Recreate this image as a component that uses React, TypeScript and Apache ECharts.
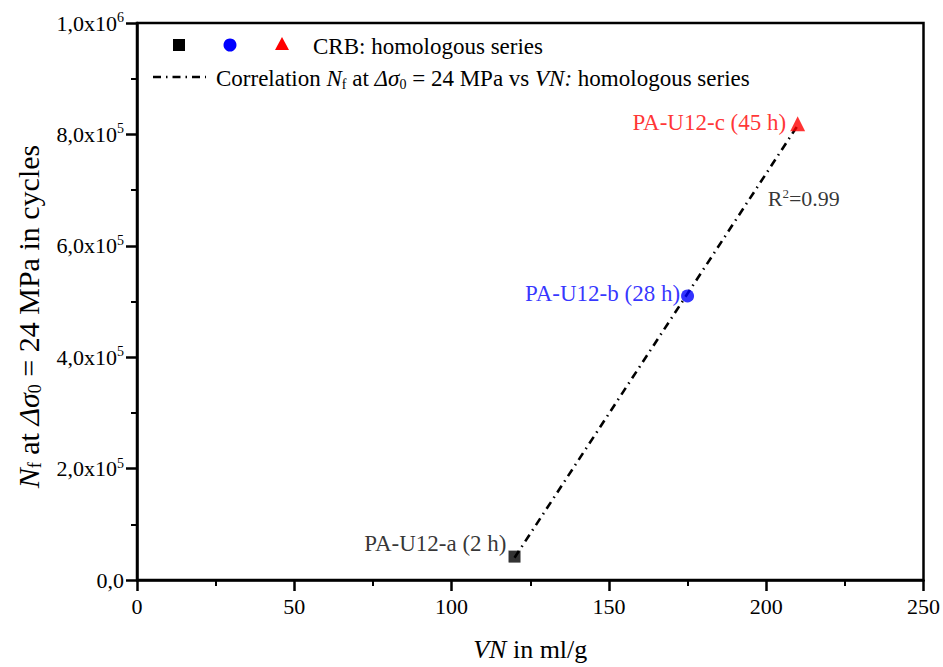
import React, { useEffect, useRef } from "react";
import * as echarts from "echarts";

const sampleNames = ["PA-U12-a (2 h)", "PA-U12-b (28 h)", "PA-U12-c (45 h)"];
const vnValues = [120, 175, 210];
const nfValues = [42000, 510000, 819000];
const sampleColors = ["#000000", "#0000ff", "#ff0000"];
const sampleSymbols = ["rect", "circle", "triangle"];
const sampleSizes = [12, 13, 15];
const labelOffsets = [[0, -13], [0, -2], [0, -1]];
const labelDistances = [2, 1, 4];

const fitX = [120, 210];
const fitY = [40000, 816000];
const r2Pos = [200.5, 685000];

const xTicks = { min: 0, max: 250, interval: 50 };
const yTicks = { min: 0, max: 1000000, interval: 200000 };

const FONT = "'Liberation Serif', 'Times New Roman', serif";

function fmtY(v: number): string {
  if (v === 0) return "{b|0,0}";
  const e = Math.floor(Math.log10(v) + 1e-9);
  const m = (v / Math.pow(10, e)).toFixed(1).replace(".", ",");
  return `{b|${m}x10}{sup|${e}}`;
}

export default function App() {
  const ref = useRef<HTMLDivElement>(null);
  useEffect(() => {
    if (!ref.current) return;
    const chart = echarts.init(ref.current, undefined, { renderer: "svg" });
    const scatterSeries = sampleNames.map((n, i) => ({
      type: "scatter",
      name: n,
      data: [[vnValues[i], nfValues[i]]],
      symbol: sampleSymbols[i],
      symbolSize: sampleSizes[i],
      itemStyle: { color: sampleColors[i] },
      z: 5,
      label: {
        show: true,
        position: "left",
        offset: labelOffsets[i],
        distance: labelDistances[i],
        formatter: n,
        color: sampleColors[i],
        fontFamily: FONT,
        fontSize: 23,
      },
    }));
    chart.setOption({
      animation: false,
      backgroundColor: "#ffffff",
      textStyle: { fontFamily: FONT },
      grid: {
        left: 137,
        right: 19,
        top: 23,
        bottom: 85,
        show: true,
        borderColor: "#000",
        borderWidth: 2.5,
        containLabel: false,
      },
      xAxis: {
        type: "value",
        min: xTicks.min,
        max: xTicks.max,
        interval: xTicks.interval,
        name: "{it|VN}{n| in ml/g}",
        nameLocation: "middle",
        nameGap: 56,
        nameTextStyle: {
          fontFamily: FONT,
          fontSize: 26,
          color: "#000",
          rich: {
            it: { fontStyle: "italic", fontFamily: FONT, fontSize: 26, color: "#000" },
            n: { fontFamily: FONT, fontSize: 26, color: "#000" },
          },
        },
        axisLine: { show: true, lineStyle: { color: "#000", width: 2.5 } },
        axisTick: { show: true, inside: false, length: 11, lineStyle: { width: 2.5, color: "#000" } },
        minorTick: { show: true, splitNumber: 2, length: 6, lineStyle: { width: 2, color: "#000" } },
        splitLine: { show: false },
        axisLabel: { fontFamily: FONT, fontSize: 22, color: "#000", margin: 15 },
      },
      yAxis: {
        type: "value",
        min: yTicks.min,
        max: yTicks.max,
        interval: yTicks.interval,
        name: "{it|N}{sub|f}{n| at }{it|Δσ}{sub|0}{n| = 24 MPa in cycles}",
        nameLocation: "middle",
        nameRotate: 90,
        nameGap: 93,
        nameTextStyle: {
          fontFamily: FONT,
          fontSize: 30,
          color: "#000",
          padding: [0, 30, 0, 0],
          rich: {
            it: { fontStyle: "italic", fontFamily: FONT, fontSize: 30, color: "#000" },
            n: { fontFamily: FONT, fontSize: 30, color: "#000" },
            sub: { fontFamily: FONT, fontSize: 18, color: "#000", padding: [14, 0, 0, 0] },
          },
        },
        axisLine: { show: true, lineStyle: { color: "#000", width: 2.5 } },
        axisTick: { show: true, inside: false, length: 11, lineStyle: { width: 2.5, color: "#000" } },
        minorTick: { show: true, splitNumber: 2, length: 6, lineStyle: { width: 2, color: "#000" } },
        splitLine: { show: false },
        axisLabel: {
          fontFamily: FONT,
          fontSize: 22,
          color: "#000",
          margin: 13,
          formatter: fmtY,
          rich: {
            b: { fontFamily: FONT, fontSize: 22, color: "#000" },
            sup: { fontFamily: FONT, fontSize: 14, color: "#000", padding: [0, 0, 11, 0] },
          },
        },
      },
      series: [
        {
          type: "line",
          name: "fit",
          data: fitX.map((x, i) => [x, fitY[i]]),
          symbol: "none",
          lineStyle: { color: "#000", width: 2.6, type: [8, 5, 1.5, 5] },
          z: 3,
        },
        ...scatterSeries,
        {
          type: "scatter",
          name: "r2",
          data: [r2Pos],
          symbolSize: 0,
          label: {
            show: true,
            position: "right",
            distance: 0,
            formatter: "{b|R}{sup|2}{b|=0.99}",
            color: "#000",
            fontFamily: FONT,
            fontSize: 22,
            rich: {
              b: { fontFamily: FONT, fontSize: 22, color: "#000" },
              sup: { fontFamily: FONT, fontSize: 13, color: "#000", padding: [0, 0, 10, 0] },
            },
          },
        },
      ],
      graphic: [
        { type: "rect", shape: { x: 173, y: 39, width: 12, height: 12 }, style: { fill: "#000" } },
        { type: "circle", shape: { cx: 230, cy: 45, r: 6.5 }, style: { fill: "#0000ff" } },
        { type: "polygon", shape: { points: [[282, 37], [289, 50], [275, 50]] }, style: { fill: "#ff0000" } },
        {
          type: "text",
          x: 313,
          y: 46,
          style: { text: "CRB: homologous series", fontFamily: FONT, fontSize: 23, fill: "#000", verticalAlign: "middle" },
        },
        {
          type: "line",
          shape: { x1: 153, y1: 77, x2: 206, y2: 77 },
          style: { stroke: "#000", lineWidth: 2.6, lineDash: [8, 5, 1.5, 5] },
        },
        {
          type: "text",
          x: 216,
          y: 78,
          style: {
            text: "{n|Correlation }{it|N}{sub|f}{n| at }{it|Δσ}{sub|0}{n| = 24 MPa vs }{it|VN:}{n| homologous series}",
            fontFamily: FONT,
            fontSize: 23,
            fill: "#000",
            verticalAlign: "middle",
            rich: {
              n: { fontFamily: FONT, fontSize: 23, fill: "#000" },
              it: { fontStyle: "italic", fontFamily: FONT, fontSize: 23, fill: "#000" },
              sub: { fontFamily: FONT, fontSize: 14, fill: "#000", padding: [12, 0, 0, 0] },
            },
          },
        },
      ],
    });
    return () => chart.dispose();
  }, []);
  return <div ref={ref} style={{ position: "fixed", left: 0, top: 0, width: 943, height: 667 }} />;
}
